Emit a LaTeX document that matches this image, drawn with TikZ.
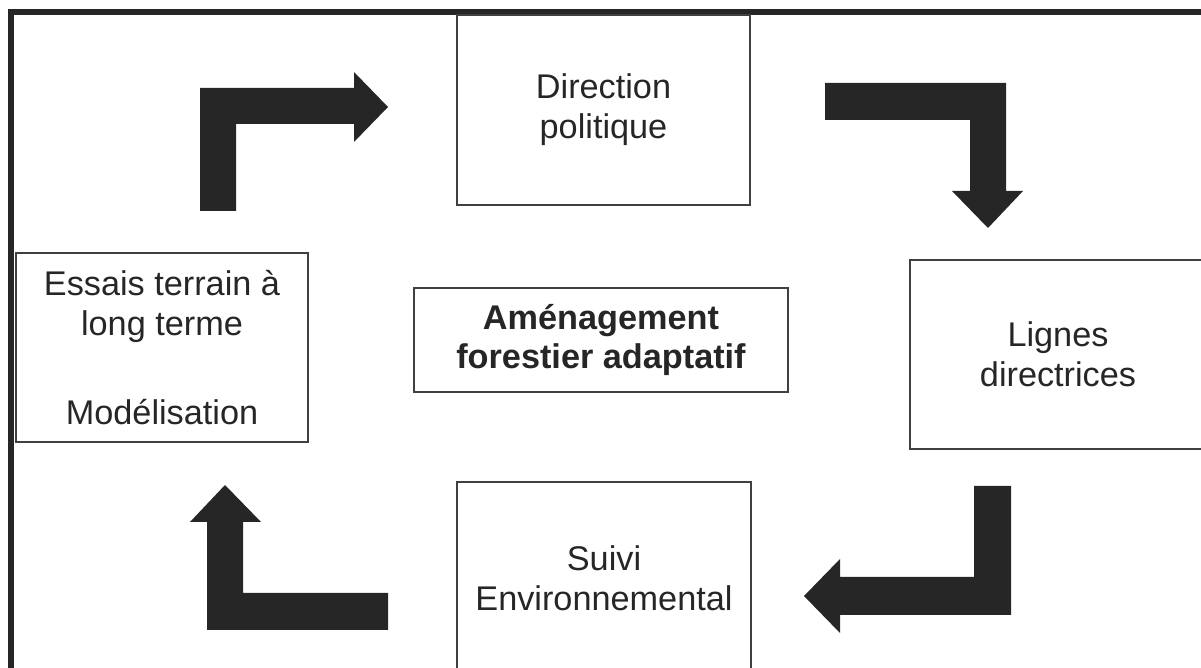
\documentclass[tikz,border=0pt]{standalone}
\usepackage{fontspec}
\setmainfont{Liberation Sans}
\usepackage{tikz}
\usetikzlibrary{positioning}
\definecolor{inkgray}{HTML}{262626}
\definecolor{boxgray}{HTML}{404040}
\tikzset{
  box/.style={draw=boxgray, line width=1.1pt, align=center, text=inkgray,
    font=\fontsize{19.5}{22.7}\selectfont, inner sep=0pt},
  blockarrow/.style={fill=inkgray, draw=none}
}
\begin{document}
\begin{tikzpicture}[x=0.02cm,y=-0.02cm]
\useasboundingbox (0,0) rectangle (1201,668);
% Frame
\draw[line width=3.4pt, inkgray] (11,700) -- (11,12) -- (1230,12);
% Boxes
\node[box, minimum width=5.86cm, minimum height=3.8cm] (direction) at (603.5,110) {Direction\\politique};
\node[box, minimum width=5.92cm, minimum height=3.78cm] (lignes) at (1058,354.5) {Lignes\\directrices};
\node[box, minimum width=5.88cm, minimum height=3.84cm] (suivi) at (604,578) {Suivi\\Environnemental};
\node[box, minimum width=5.84cm, minimum height=3.78cm] (essais) at (162,347.5) {Essais terrain à\\long terme\\[28pt]Modélisation};
\node[box, minimum width=7.48cm, minimum height=2.08cm, font=\fontsize{19.5}{22.7}\selectfont\bfseries] (amenagement) at (601,340) {Aménagement\\forestier adaptatif};
% Arrows
\fill[blockarrow] (200,211) -- (200,88) -- (354,88) -- (354,72) -- (388,107) -- (354,142) -- (354,124) -- (236,124) -- (236,211) -- cycle;
\fill[blockarrow] (825,83) -- (1006,83) -- (1006,191) -- (1023,191) -- (988,228) -- (952,191) -- (970,191) -- (970,120) -- (825,120) -- cycle;
\fill[blockarrow] (1011,486) -- (1011,615) -- (840,615) -- (840,633) -- (804,596) -- (840,559) -- (840,577) -- (974,577) -- (974,486) -- cycle;
\fill[blockarrow] (388,593) -- (388,630) -- (207,630) -- (207,522) -- (190,522) -- (225,485) -- (261,522) -- (243,522) -- (243,593) -- cycle;
\end{tikzpicture}
\end{document}
